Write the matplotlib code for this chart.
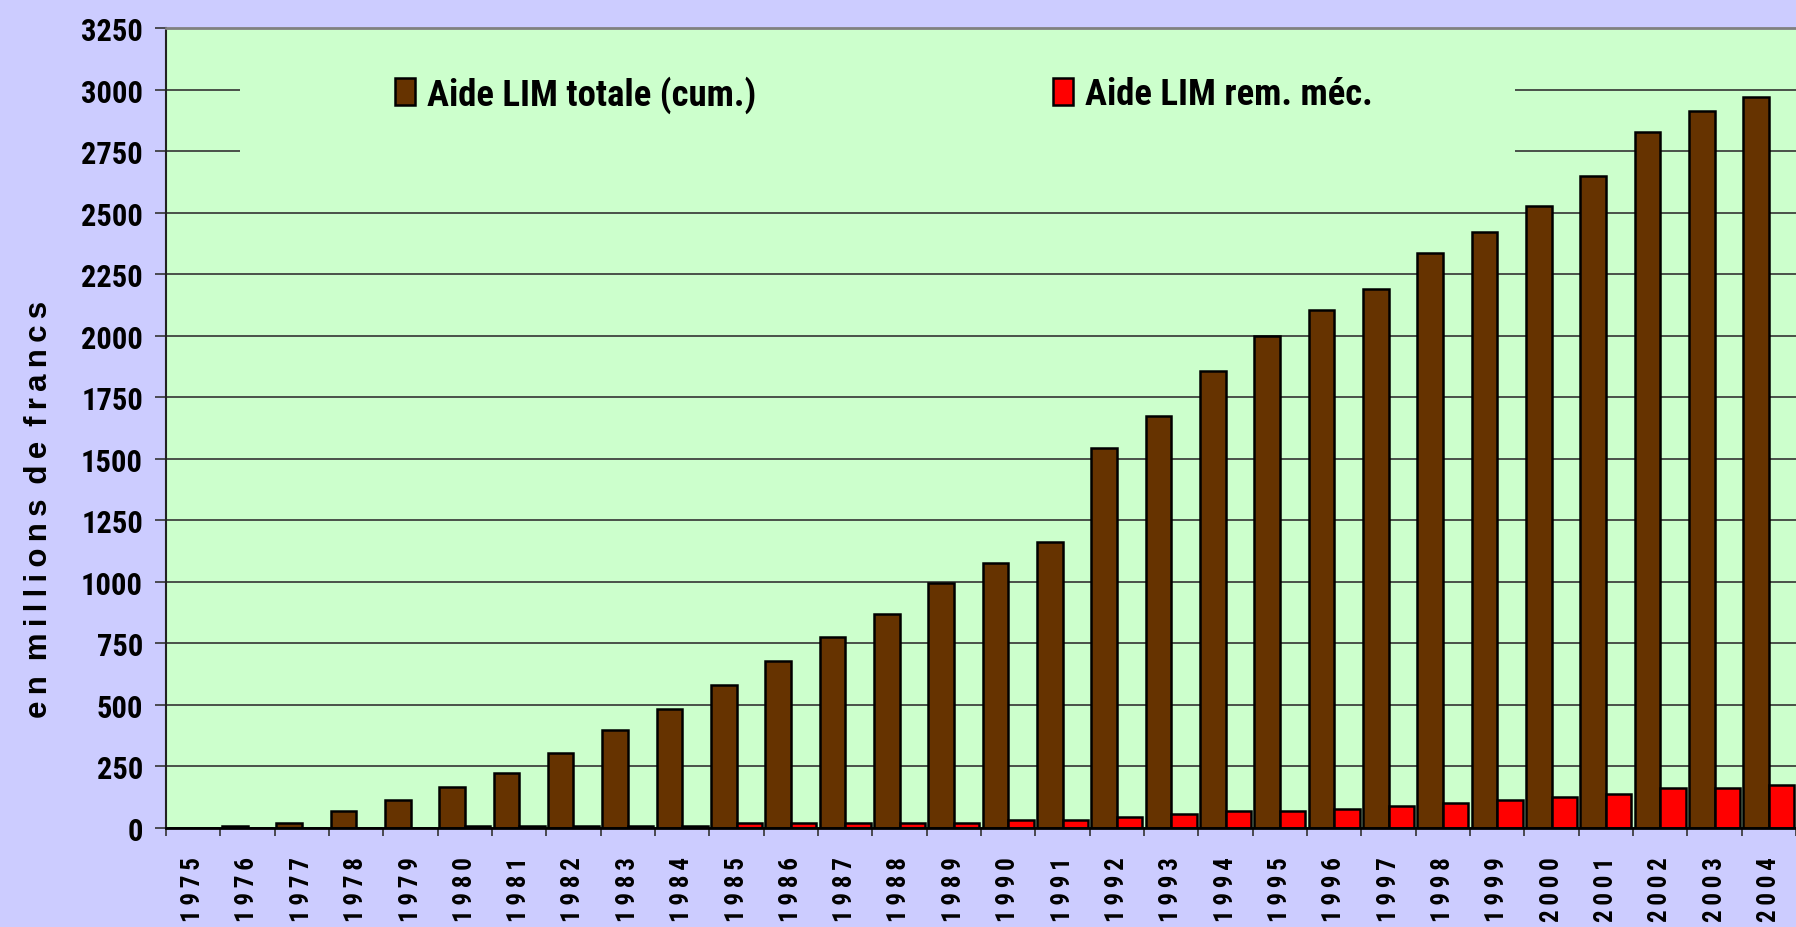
import matplotlib
matplotlib.use("Agg")
import matplotlib.pyplot as plt
from matplotlib import font_manager
from matplotlib.patches import Rectangle, Patch
import numpy as np

# ---- data ----
years = [str(y) for y in range(1975, 2005)]
aide_totale = [0, 8, 20, 70, 115, 165, 225, 305, 400, 485,
               580, 680, 775, 870, 995, 1075, 1160, 1545, 1675, 1855,
               2000, 2105, 2190, 2335, 2420, 2528, 2648, 2826, 2911, 2971]
aide_rem = [0, 0, 0, 0, 0, 8, 8, 8, 8, 8,
            22, 22, 22, 22, 22, 33, 33, 45, 58, 70,
            70, 79, 90, 102, 115, 127, 139, 162, 162, 174]
yticks = list(range(0, 3251, 250))
legend_labels = ["Aide LIM totale (cum.)", "Aide LIM rem. méc."]
ylabel_words = ["en", "millions", "de", "francs"]

# ---- fonts ----
installed = {f.name for f in font_manager.fontManager.ttflist}
def pick(cands):
    for c in cands:
        if c in installed:
            return c
    return "DejaVu Sans"
narrow = pick(["Liberation Sans Narrow", "Roboto Condensed", "Arial Narrow", "Liberation Sans"])
regular = pick(["Liberation Sans", "Arial", "DejaVu Sans"])

BG = "#CCCCFF"
PLOT_BG = "#CCFFCC"
BROWN = "#663300"
RED = "#FF0000"

W, H = 1796, 928
fig = plt.figure(figsize=(W / 100, H / 100), dpi=100, facecolor=BG)
left, right, top, bottom = 166, 1796, 29, 829
ax = fig.add_axes([left / W, 1 - bottom / H, (right - left) / W, (bottom - top) / H])
ax.set_facecolor(PLOT_BG)
ax.set_axisbelow(True)

x = np.arange(len(years))
bw = 0.47
off = 0.235
ax.bar(x - off, aide_totale, width=bw, color=BROWN, edgecolor="black", linewidth=1.8, zorder=2)
ax.bar(x + off, aide_rem, width=bw, color=RED, edgecolor="black", linewidth=1.8, zorder=2)

cat_px = 54.4
ax.set_xlim(-0.5, -0.5 + (right - left) / cat_px)
ax.set_ylim(0, 3250)

# y axis
ax.set_yticks(yticks)
ax.set_yticklabels([str(v) for v in yticks], fontfamily=narrow, fontweight="bold", fontsize=22)
ax.tick_params(axis="y", direction="out", length=8, width=1.2, color="#333333", pad=8.5)
ax.yaxis.grid(True, color="#333333", linewidth=1.2)

# x axis
TS = "\u2009"
ax.set_xticks(x)
ax.set_xticklabels([TS.join(y) for y in years], rotation=90, fontfamily=[narrow, "DejaVu Sans"],
                   fontweight="bold", fontsize=18, va="top", ha="center")
ax.tick_params(axis="x", which="major", length=0, pad=20)
ax.set_xticks(np.arange(-0.5, len(years), 1.0), minor=True)
ax.tick_params(axis="x", which="minor", direction="out", length=6, width=1.2, color="#333333")

ax.spines["right"].set_visible(False)
ax.spines["top"].set_color("#808080")
ax.spines["top"].set_linewidth(2)
ax.spines["left"].set_color("#222222")
ax.spines["left"].set_linewidth(1.5)
ax.spines["bottom"].set_color("black")
ax.spines["bottom"].set_linewidth(2)

# legend background mask (hides gridlines behind legend)
ax.add_patch(Rectangle((0.0454, 0.805), 0.8276 - 0.0454, 0.19, transform=ax.transAxes,
                       facecolor=PLOT_BG, edgecolor="none", zorder=0.8))

fs = 26.5
fs_px = fs * 100 / 72
colors = [BROWN, RED]
anchors_px = [395, 1053]
for lab, col, ax_px in zip(legend_labels, colors, anchors_px):
    h = Patch(facecolor=col, edgecolor="black", linewidth=1.8)
    fig.legend([h], [lab], loc="center left",
               bbox_to_anchor=(ax_px / W, 1 - 95 / H), frameon=False,
               borderpad=0, borderaxespad=0,
               handlelength=20 / fs_px, handleheight=28 / fs_px,
               handletextpad=12 / fs_px,
               prop=dict(family=narrow, weight="bold", size=fs))

ylabel = (" " + TS).join(TS.join(w) for w in ylabel_words)
fig.text(39 / W, 1 - 509 / H, ylabel, rotation=90, ha="center", va="center",
         fontfamily=[regular, "DejaVu Sans"], fontweight="bold", fontsize=22.5)

fig.savefig("out.png", dpi=100, facecolor=BG)
